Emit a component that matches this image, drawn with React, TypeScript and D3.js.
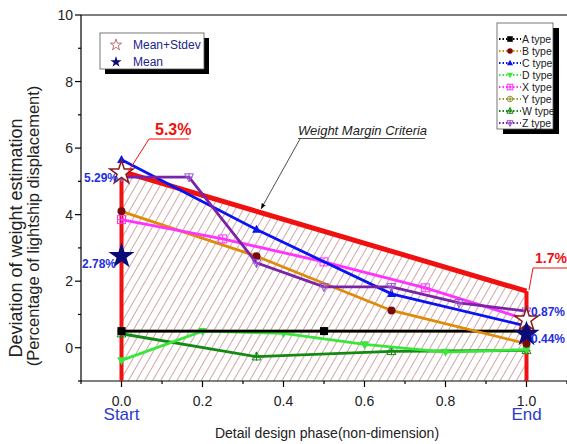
import React from "react";
import * as d3 from "d3";

const W = 567;
const H = 444;

// Series data
const aX = [0, 0.5, 1];
const aY = [0.5, 0.5, 0.5];
const bX = [0, 1 / 3, 2 / 3, 1];
const bY = [4.1, 2.75, 1.12, 0.12];
const cX = [0, 1 / 3, 2 / 3, 1];
const cY = [5.65, 3.55, 1.62, 0.65];
const dX = [0, 0.2, 0.4, 0.6, 0.8, 1];
const dY = [-0.38, 0.5, 0.43, 0.1, -0.13, -0.06];
const xtX = [0, 0.25, 0.5, 0.75, 1];
const xtY = [3.85, 3.27, 2.58, 1.8, 0.85];
const yX = [0, 0.5, 1];
const yY = [0.5, 0.5, 0.5];
const wX = [0, 1 / 3, 2 / 3, 1];
const wY = [0.42, -0.27, -0.11, -0.08];
const zX = [0, 1 / 6, 1 / 3, 1 / 2, 2 / 3, 5 / 6, 1];
const zY = [5.13, 5.13, 2.55, 1.83, 1.83, 1.35, 1.1];

const marginX = [0, 0, 1, 1];
const marginY = [-1, 5.3, 1.7, -1];

const meanStdX = [0, 1];
const meanStdY = [5.29, 0.87];
const meanX = [0, 1];
const meanY = [2.78, 0.44];

const xTicks = [0, 0.2, 0.4, 0.6, 0.8, 1.0];
const xMinor = [-0.1, 0.1, 0.3, 0.5, 0.7, 0.9, 1.1];
const yTicks = [0, 2, 4, 6, 8, 10];
const yMinor = [-1, 1, 3, 5, 7, 9];

type Series = {
  name: string;
  xs: number[];
  ys: number[];
  color: string;
  marker: string;
  mcolor: string;
};

const series: Series[] = [
  { name: "Y type", xs: yX, ys: yY, color: "#9a9a3a", marker: "circlecross", mcolor: "#9a9a3a" },
  { name: "W type", xs: wX, ys: wY, color: "#138a13", marker: "tricross", mcolor: "#138a13" },
  { name: "D type", xs: dX, ys: dY, color: "#39e639", marker: "tridown", mcolor: "#39e639" },
  { name: "A type", xs: aX, ys: aY, color: "#000000", marker: "square", mcolor: "#000000" },
  { name: "B type", xs: bX, ys: bY, color: "#e08a0a", marker: "circle", mcolor: "#7a0a0a" },
  { name: "X type", xs: xtX, ys: xtY, color: "#ff33ff", marker: "squarecross", mcolor: "#ff33ff" },
  { name: "C type", xs: cX, ys: cY, color: "#0a14f0", marker: "triup", mcolor: "#0a14f0" },
  { name: "Z type", xs: zX, ys: zY, color: "#7a22a8", marker: "tridowncross", mcolor: "#9a55d0" },
];

const legendOrder = ["A type", "B type", "C type", "D type", "X type", "Y type", "W type", "Z type"];

function Marker({ kind, x, y, color, s = 4 }: { kind: string; x: number; y: number; color: string; s?: number }) {
  switch (kind) {
    case "square":
      return <rect x={x - s} y={y - s} width={2 * s} height={2 * s} fill={color} />;
    case "circle":
      return <circle cx={x} cy={y} r={s} fill={color} />;
    case "triup":
      return <path d={`M${x},${y - s * 1.2}L${x + s * 1.1},${y + s * 0.8}L${x - s * 1.1},${y + s * 0.8}Z`} fill={color} />;
    case "tridown":
      return <path d={`M${x},${y + s * 1.2}L${x + s * 1.1},${y - s * 0.8}L${x - s * 1.1},${y - s * 0.8}Z`} fill={color} />;
    case "squarecross":
      return (
        <g stroke={color} strokeWidth={1} fill="none">
          <rect x={x - s} y={y - s} width={2 * s} height={2 * s} />
          <path d={`M${x - s},${y}H${x + s}M${x},${y - s}V${y + s}`} />
        </g>
      );
    case "circlecross":
      return (
        <g stroke={color} strokeWidth={1} fill="none">
          <circle cx={x} cy={y} r={s} />
          <path d={`M${x - s},${y}H${x + s}M${x},${y - s}V${y + s}`} />
        </g>
      );
    case "tricross":
      return (
        <g stroke={color} strokeWidth={1} fill="none">
          <path d={`M${x},${y - s * 1.2}L${x + s * 1.1},${y + s * 0.8}L${x - s * 1.1},${y + s * 0.8}Z`} />
          <path d={`M${x - s},${y}H${x + s}M${x},${y - s * 1.2}V${y + s}`} />
        </g>
      );
    case "tridowncross":
      return (
        <g stroke={color} strokeWidth={1} fill="none">
          <path d={`M${x},${y + s * 1.2}L${x + s * 1.1},${y - s * 0.8}L${x - s * 1.1},${y - s * 0.8}Z`} />
          <path d={`M${x - s},${y}H${x + s}M${x},${y - s}V${y + s * 1.2}`} />
        </g>
      );
    default:
      return null;
  }
}

export default function App() {
  const x = d3.scaleLinear().domain([-0.1, 1.1]).range([81, 567]);
  const y = d3.scaleLinear().domain([-1, 10]).range([381, 15]);
  const line = d3
    .line<[number, number]>()
    .x((d) => x(d[0]))
    .y((d) => y(d[1]));

  const marginPoly = marginX.map((v, i) => [x(v), y(marginY[i])].join(",")).join(" ");
  const star = d3.symbol().type(d3.symbolStar);

  const font = "Arial, 'Liberation Sans', sans-serif";
  const legendX = 498;
  const legendY0 = 39;
  const legendDy = 12;

  return (
    <svg width={W} height={H} style={{ position: "absolute", left: 0, top: 0, fontFamily: font }}>
      <defs>
        <pattern id="hatch" patternUnits="userSpaceOnUse" width={7} height={7} patternTransform="rotate(30)">
          <line x1={0} y1={0} x2={0} y2={7} stroke="#9c3a3c" strokeWidth={0.9} />
        </pattern>
        <marker id="arrow" viewBox="0 0 10 10" refX={10} refY={5} markerWidth={7} markerHeight={7} orient="auto">
          <path d="M0,1L10,5L0,9Z" fill="#000" />
        </marker>
      </defs>
      <rect width={W} height={H} fill="#fff" />

      {/* hatched margin region */}
      <polygon points={marginPoly} fill="url(#hatch)" />

      {/* frame */}
      <line x1={81} y1={15} x2={567} y2={15} stroke="#000" strokeWidth={1} />
      <line x1={81} y1={15} x2={81} y2={381} stroke="#000" strokeWidth={1.2} />
      <line x1={81} y1={381} x2={567} y2={381} stroke="#000" strokeWidth={1.2} />

      {/* y ticks */}
      {yTicks.map((t) => (
        <g key={"yt" + t}>
          <line x1={75} x2={81} y1={y(t)} y2={y(t)} stroke="#000" strokeWidth={1.2} />
          <text x={73} y={y(t) + 5} textAnchor="end" fontSize={14} fill="#222">
            {t}
          </text>
        </g>
      ))}
      {yMinor.map((t) => (
        <line key={"ym" + t} x1={78} x2={81} y1={y(t)} y2={y(t)} stroke="#000" strokeWidth={1.2} />
      ))}
      {/* x ticks */}
      {xTicks.map((t) => (
        <g key={"xt" + t}>
          <line x1={x(t)} x2={x(t)} y1={381} y2={387} stroke="#000" strokeWidth={1.2} />
          <text x={x(t)} y={406} textAnchor="middle" fontSize={14} fill="#222">
            {t.toFixed(1)}
          </text>
        </g>
      ))}
      {xMinor.map((t) => (
        <line key={"xm" + t} x1={x(t)} x2={x(t)} y1={381} y2={384} stroke="#000" strokeWidth={1.2} />
      ))}
      <text x={x(0)} y={420} textAnchor="middle" fontSize={17} fill="#2a3ccc">Start</text>
      <text x={x(1)} y={420} textAnchor="middle" fontSize={17} fill="#2a3ccc">End</text>

      {/* axis titles */}
      <text x={327} y={438} textAnchor="middle" fontSize={14} fill="#222">
        Detail design phase(non-dimension)
      </text>
      <text transform="translate(22,238) rotate(-90)" textAnchor="middle" fontSize={18} fill="#222">
        Deviation of weight estimation
      </text>
      <text transform="translate(39,226) rotate(-90)" textAnchor="middle" fontSize={16.5} fill="#222">
        (Percentage of lightship displacement)
      </text>

      {/* margin red lines */}
      <path
        d={line([
          [0, -1],
          [0, 5.3],
        ]) ?? ""}
        stroke="#f01010"
        strokeWidth={4}
        fill="none"
      />
      <path
        d={line([
          [1, -1],
          [1, 1.7],
        ]) ?? ""}
        stroke="#f01010"
        strokeWidth={4}
        fill="none"
      />
      <path
        d={line([
          [0, 5.3],
          [1, 1.7],
        ]) ?? ""}
        stroke="#f01010"
        strokeWidth={5}
        fill="none"
      />

      {/* series */}
      {series.map((s) => (
        <g key={s.name}>
          <path
            d={line(s.xs.map((v, i) => [v, s.ys[i]] as [number, number])) ?? ""}
            stroke={s.color}
            strokeWidth={2.8}
            fill="none"
          />
          {s.xs.map((v, i) => (
            <Marker key={i} kind={s.marker} x={x(v)} y={y(s.ys[i])} color={s.mcolor} s={4} />
          ))}
        </g>
      ))}

      {/* stars */}
      {meanStdX.map((v, i) => (
        <path
          key={"ms" + i}
          d={star.size(170)() ?? ""}
          transform={`translate(${x(v)},${y(meanStdY[i]) + 1})`}
          fill="#fff"
          stroke="#8a1a1a"
          strokeWidth={1.5}
        />
      ))}
      {meanX.map((v, i) => (
        <path
          key={"m" + i}
          d={star.size(210)() ?? ""}
          transform={`translate(${x(v)},${y(meanY[i]) + 1})`}
          fill="#0b0b78"
        />
      ))}

      {/* value labels */}
      <text x={84} y={182} fontSize={12} fontWeight="bold" fill="#1f2fe0">5.29%</text>
      <text x={82} y={268} fontSize={12} fontWeight="bold" fill="#1f2fe0">2.78%</text>
      <text x={531} y={316} fontSize={12} fontWeight="bold" fill="#1f2fe0">0.87%</text>
      <text x={531} y={343} fontSize={12} fontWeight="bold" fill="#1f2fe0">0.44%</text>

      {/* 5.3% label */}
      <text x={155} y={135} fontSize={16} fontWeight="bold" fill="#f01010">5.3%</text>
      <path d="M128,172L149,139H189" stroke="#f01010" strokeWidth={1} fill="none" />
      {/* 1.7% label */}
      <text x={535} y={263} fontSize={14} fontWeight="bold" fill="#f01010">1.7%</text>
      <path d="M529,290L533,268H567" stroke="#f01010" strokeWidth={1} fill="none" />

      {/* Weight Margin Criteria */}
      <text x={298} y={135} fontSize={13} fontStyle="italic" fill="#222">Weight Margin Criteria</text>
      <line x1={298} y1={138.5} x2={425} y2={138.5} stroke="#222" strokeWidth={0.8} />
      <line x1={300} y1={139} x2={261} y2={209} stroke="#222" strokeWidth={0.8} markerEnd="url(#arrow)" />

      {/* left legend */}
      <rect x={105} y={38} width={104} height={36} fill="#000" />
      <rect x={100} y={33} width={104} height={36} fill="#fff" stroke="#555" strokeWidth={0.8} />
      <path d={star.size(40)() ?? ""} transform="translate(116,45)" fill="#fff" stroke="#b05050" strokeWidth={0.8} />
      <path d={star.size(40)() ?? ""} transform="translate(116,62)" fill="#0b0b78" />
      <text x={133} y={49} fontSize={12} fill="#23238c">Mean+Stdev</text>
      <text x={133} y={66} fontSize={12} fill="#23238c">Mean</text>

      {/* right legend */}
      <rect x={503} y={28} width={56} height={106} fill="#000" />
      <rect x={497} y={23} width={56} height={106} fill="#fff" stroke="#555" strokeWidth={0.8} />
      {legendOrder.map((name, i) => {
        const s = series.find((q) => q.name === name)!;
        const ly = legendY0 + i * legendDy;
        return (
          <g key={"lg" + name}>
            <line
              x1={legendX + 1}
              x2={legendX + 23}
              y1={ly}
              y2={ly}
              stroke={s.color}
              strokeWidth={2}
              strokeDasharray="1.5,2"
            />
            <Marker kind={s.marker} x={legendX + 12} y={ly} color={s.mcolor} s={2.8} />
            <text x={legendX + 24} y={ly + 4} fontSize={10.5} fill="#222">
              {name}
            </text>
          </g>
        );
      })}
    </svg>
  );
}
